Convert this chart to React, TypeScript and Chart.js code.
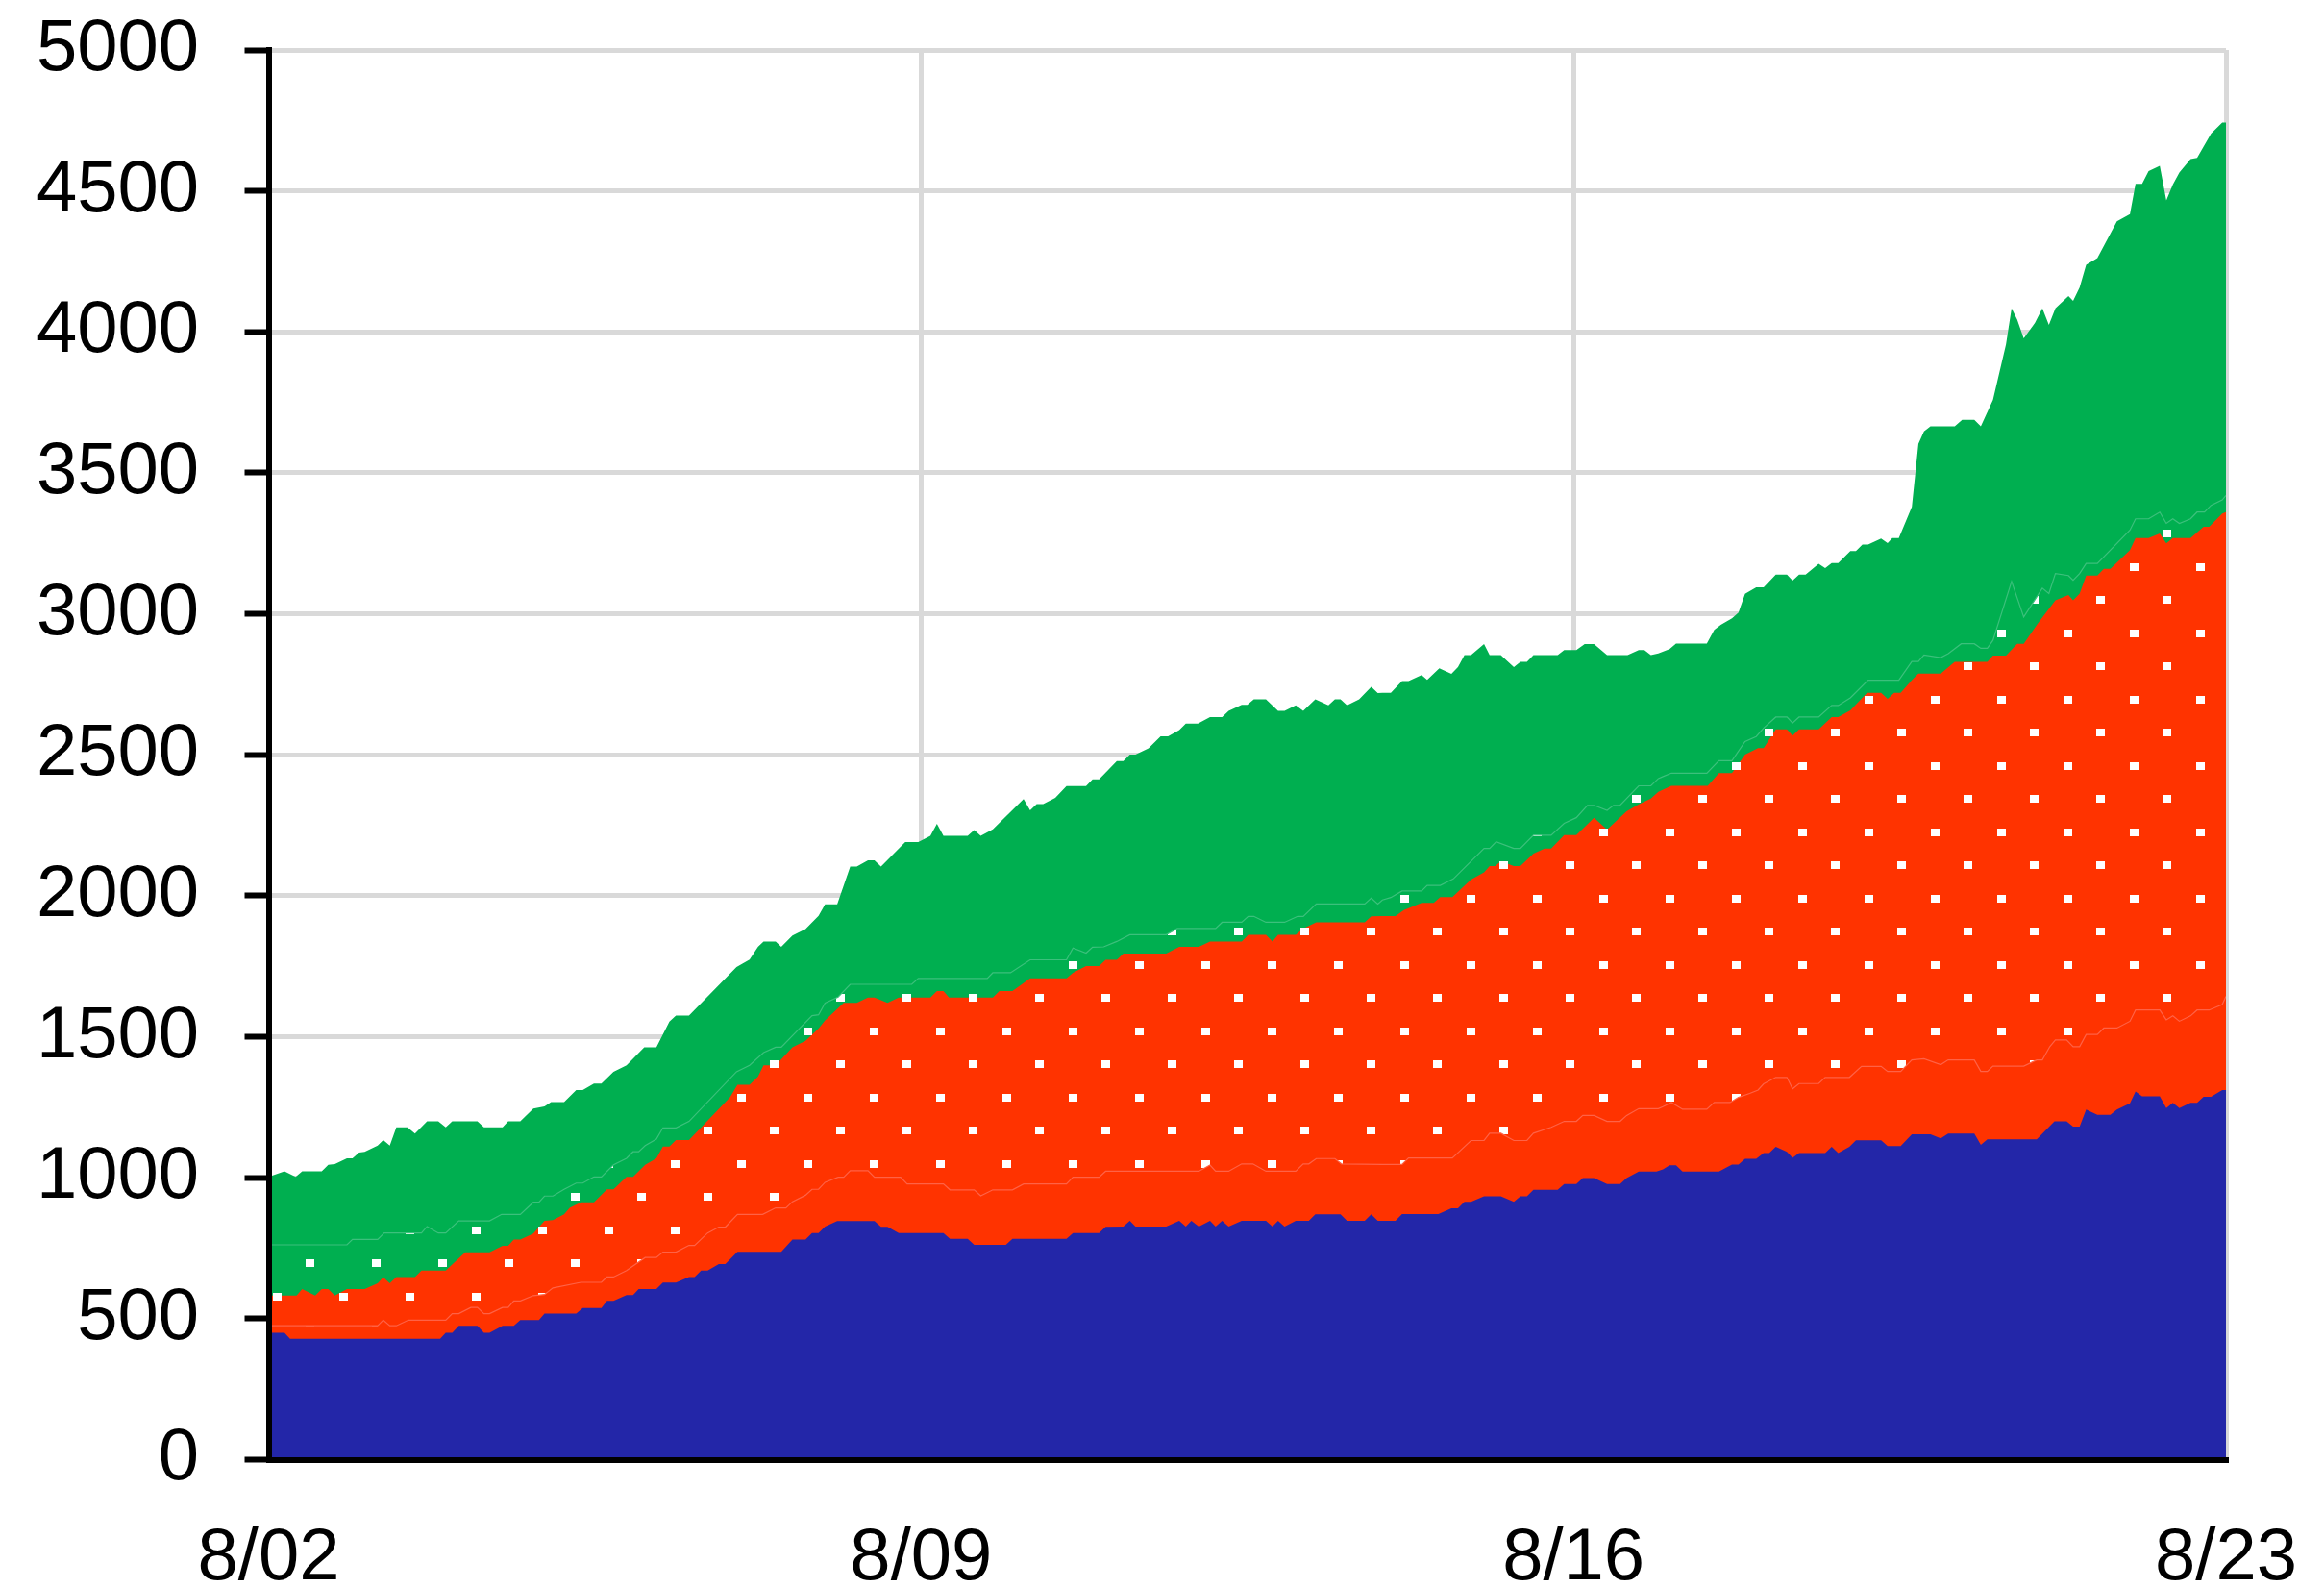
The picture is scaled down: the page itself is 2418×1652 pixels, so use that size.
import React, { useEffect, useRef } from 'react';
import { Chart, registerables } from 'chart.js';

Chart.register(...registerables);

// x positions are in days after 8/02
const xTickDays = [0, 7, 14, 21];
const xTickLabels = ['8/02', '8/09', '8/16', '8/23'];
const yTickStep = 500;

const greenTopDays = [0, 0.17, 0.29, 0.36, 0.57, 0.64, 0.71, 0.84, 0.9, 0.97, 1.03, 1.17, 1.23, 1.3, 1.37, 1.49, 1.57, 1.7, 1.82, 1.9, 1.97, 2.24, 2.31, 2.51, 2.57, 2.7, 2.84, 2.96,
  3.03, 3.17, 3.3, 3.37, 3.49, 3.57, 3.7, 3.84, 4.03, 4.16, 4.3, 4.37, 4.51, 5.02, 5.16, 5.25, 5.31, 5.44, 5.5, 5.62, 5.76, 5.9, 5.97,
  6.1, 6.24, 6.31, 6.43, 6.5, 6.57, 6.83, 6.97, 7.1, 7.17, 7.24, 7.5, 7.57, 7.64, 7.77, 8.1, 8.17, 8.24, 8.31, 8.44, 8.56, 8.77, 8.84, 8.91, 8.98,
  9.1, 9.17, 9.24, 9.3, 9.44, 9.57, 9.65, 9.77, 9.84, 9.97, 10.1, 10.23, 10.3, 10.44, 10.5, 10.57, 10.7, 10.83, 10.9, 11.02, 11.1, 11.23, 11.37, 11.44, 11.5, 11.57, 11.7, 11.83, 11.9, 11.95,
  12.04, 12.16, 12.23, 12.37, 12.43, 12.56, 12.69, 12.76, 12.83, 12.9, 13.04, 13.1, 13.22, 13.36, 13.43, 13.5, 13.57, 13.83, 13.9, 14.03, 14.12, 14.22, 14.36, 14.58, 14.7, 14.76, 14.83, 14.91,
  15.03, 15.1, 15.43, 15.51, 15.58, 15.7, 15.77, 15.84, 15.96, 16.04, 16.17, 16.29, 16.35, 16.42, 16.49, 16.63, 16.7, 16.77, 16.84, 16.97, 17.03, 17.1, 17.16, 17.3, 17.37, 17.42, 17.49, 17.63, 17.7, 17.76, 17.83,
  18.09, 18.17, 18.3, 18.37, 18.5, 18.64, 18.7, 18.76, 18.83, 18.95, 19.03, 19.1, 19.17, 19.31, 19.36, 19.43, 19.5, 19.62, 19.83, 19.97, 20.03, 20.1, 20.17, 20.29, 20.36, 20.43, 20.5, 20.62, 20.69, 20.84, 20.96, 21];
const greenTopValues = [1003, 1023, 1003, 1023, 1023, 1046, 1048, 1069, 1069, 1089, 1092, 1114, 1134, 1114, 1179, 1179, 1157, 1200, 1200, 1179, 1200, 1200, 1179, 1179, 1200, 1200, 1245, 1253,
  1268, 1268, 1311, 1311, 1334, 1334, 1376, 1399, 1463, 1463, 1554, 1575, 1575, 1747, 1774, 1819, 1838, 1838, 1819, 1859, 1882, 1929, 1970,
  1970, 2104, 2104, 2126, 2126, 2104, 2191, 2191, 2213, 2255, 2213, 2213, 2233, 2213, 2236, 2343, 2303, 2325, 2325, 2347, 2389, 2389, 2413, 2413, 2437,
  2478, 2478, 2501, 2501, 2523, 2566, 2566, 2588, 2611, 2611, 2634, 2634, 2656, 2677, 2677, 2697, 2697, 2656, 2656, 2676, 2656, 2697, 2676, 2697, 2697, 2676, 2697, 2741, 2719, 2720,
  2720, 2762, 2762, 2783, 2766, 2807, 2787, 2811, 2854, 2854, 2893, 2854, 2854, 2811, 2830, 2830, 2854, 2854, 2872, 2872, 2893, 2893, 2854, 2854, 2872, 2872, 2854, 2860,
  2875, 2895, 2895, 2943, 2961, 2984, 3005, 3071, 3094, 3094, 3139, 3139, 3118, 3139, 3139, 3178, 3162, 3180, 3180, 3223, 3223, 3246, 3246, 3267, 3251, 3269, 3269, 3380, 3603, 3647, 3665,
  3665, 3688, 3688, 3665, 3759, 3956, 4084, 4044, 3977, 4032, 4084, 4025, 4084, 4127, 4110, 4158, 4238, 4262, 4392, 4418, 4525, 4525, 4570, 4589, 4466, 4523, 4565, 4613, 4617, 4703, 4743, 4743];

const greenDotDays = [0, 0.84, 0.9, 1.17, 1.24, 1.64, 1.7, 1.82, 1.9, 2.04, 2.37, 2.5, 2.7, 2.84, 2.9, 2.96,
  3.05, 3.17, 3.3, 3.37, 3.49, 3.57, 3.7, 3.84, 3.91, 3.97, 4.04, 4.16, 4.23, 4.37, 4.51, 5.02, 5.16, 5.31, 5.44, 5.5, 5.83, 5.9, 5.97,
  6.11, 6.24, 6.9, 6.97, 7.71, 7.77, 7.96, 8.17, 8.56, 8.63, 8.77, 8.84, 8.96,
  9.1, 9.24, 9.63, 9.75, 10.16, 10.23, 10.44, 10.51, 10.57, 10.7, 10.9, 11.04, 11.1, 11.24, 11.76, 11.83, 11.9, 11.95,
  12.04, 12.16, 12.37, 12.43, 12.57, 12.71, 13.04, 13.1, 13.17, 13.36, 13.43, 13.57, 13.76, 13.9, 14.03, 14.15, 14.22, 14.36, 14.43, 14.5, 14.7, 14.83, 14.91, 14.96,
  15.05, 15.43, 15.56, 15.7, 15.84, 15.96, 16.04, 16.17, 16.29, 16.35, 16.42, 16.63, 16.77, 16.84, 16.97, 17.16, 17.49, 17.63, 17.7, 17.76, 17.94,
  18.02, 18.16, 18.3, 18.37, 18.44, 18.5, 18.7, 18.83, 19.03, 19.1, 19.17, 19.31, 19.36, 19.43, 19.5, 19.62, 19.97, 20.03, 20.17, 20.29, 20.36, 20.43, 20.5, 20.62, 20.69, 20.77, 20.84, 20.96, 21];
const greenDotValues = [762, 762, 781, 781, 804, 804, 827, 804, 804, 847, 847, 870, 870, 913, 913, 935,
  935, 959, 981, 981, 1003, 1003, 1046, 1069, 1092, 1092, 1114, 1137, 1177, 1177, 1200, 1376, 1399, 1444, 1463, 1463, 1575, 1578, 1620,
  1641, 1686, 1686, 1707, 1707, 1727, 1727, 1773, 1773, 1815, 1797, 1818, 1819,
  1838, 1862, 1862, 1884, 1884, 1906, 1906, 1927, 1927, 1906, 1906, 1927, 1927, 1971, 1971, 1992, 1971, 1985,
  1994, 2017, 2017, 2037, 2037, 2060, 2168, 2168, 2192, 2168, 2168, 2215, 2215, 2257, 2277, 2321, 2321, 2303, 2321, 2321, 2390, 2390, 2416, 2423,
  2435, 2435, 2479, 2479, 2547, 2565, 2595, 2634, 2634, 2613, 2634, 2634, 2675, 2675, 2702, 2765, 2765, 2831, 2831, 2854, 2845,
  2859, 2894, 2894, 2878, 2878, 2906, 3115, 2989, 3091, 3072, 3143, 3136, 3119, 3143, 3179, 3179, 3297, 3337, 3337, 3361, 3321, 3337, 3321, 3337, 3361, 3361, 3385, 3404, 3420];

const redDotDays = [0, 0.3, 0.36, 0.5, 0.57, 0.64, 0.71, 0.84, 1.03, 1.17, 1.23, 1.3, 1.37, 1.57, 1.64, 1.9, 2.04, 2.11, 2.37, 2.51, 2.57, 2.63, 2.7, 2.84, 2.9, 2.96,
  3.05, 3.17, 3.23, 3.35, 3.49, 3.63, 3.7, 3.84, 3.91, 4.04, 4.16, 4.23, 4.3, 4.37, 4.51, 4.95, 5.03, 5.16, 5.25, 5.31, 5.44, 5.62, 5.76, 5.9, 5.97,
  6.17, 6.31, 6.43, 6.5, 6.64, 6.76, 7.1, 7.17, 7.24, 7.3, 7.77, 7.84, 7.98, 8.17, 8.56, 8.63, 8.77, 8.91, 8.98,
  9.1, 9.17, 9.63, 9.77, 9.98, 10.1, 10.44, 10.51, 10.7, 10.77, 10.83, 11.02, 11.1, 11.24, 11.76, 11.83, 11.95,
  12.09, 12.18, 12.37, 12.5, 12.57, 12.7, 12.9, 13.04, 13.1, 13.16, 13.22, 13.36, 13.43, 13.57, 13.69, 13.76, 13.9, 14.03, 14.22, 14.36, 14.57, 14.7, 14.83, 14.91, 14.96,
  15.05, 15.44, 15.56, 15.7, 15.84, 15.98, 16.04, 16.17, 16.29, 16.35, 16.42, 16.63, 16.77, 16.84, 16.97, 17.15, 17.3, 17.37, 17.44, 17.51, 17.63, 17.7, 17.94,
  18.09, 18.44, 18.5, 18.64, 18.76, 18.83, 18.98, 19.17, 19.31, 19.36, 19.43, 19.5, 19.62, 19.69, 19.76, 19.97, 20.03, 20.17, 20.29, 20.36, 20.43, 20.62, 20.76, 20.82, 20.96, 21];
const redDotValues = [582, 582, 605, 582, 605, 605, 582, 605, 605, 626, 647, 626, 648, 648, 671, 671, 714, 736, 736, 759, 759, 781, 781, 802, 825, 847,
  850, 870, 893, 913, 913, 959, 959, 1003, 1003, 1046, 1069, 1111, 1111, 1134, 1134, 1285, 1330, 1330, 1359, 1399, 1399, 1463, 1486, 1529, 1558,
  1620, 1620, 1639, 1639, 1620, 1639, 1639, 1662, 1662, 1639, 1639, 1662, 1662, 1707, 1707, 1727, 1751, 1751, 1773,
  1773, 1795, 1795, 1819, 1819, 1838, 1838, 1862, 1862, 1838, 1862, 1862, 1884, 1906, 1906, 1927, 1928,
  1928, 1949, 1975, 1975, 1995, 1995, 2058, 2083, 2105, 2105, 2122, 2105, 2105, 2150, 2168, 2168, 2215, 2215, 2277, 2235, 2300, 2324, 2345, 2369, 2376,
  2390, 2390, 2435, 2435, 2501, 2524, 2524, 2590, 2590, 2568, 2590, 2590, 2634, 2634, 2658, 2720, 2720, 2699, 2720, 2720, 2765, 2788, 2788,
  2830, 2830, 2852, 2852, 2894, 2894, 2965, 3048, 3067, 3048, 3072, 3136, 3136, 3160, 3160, 3226, 3269, 3269, 3285, 3250, 3269, 3269, 3309, 3309, 3356, 3361];

const redSolidDays = [0, 1.17, 1.23, 1.3, 1.37, 1.5, 1.9, 1.97, 2.04, 2.17, 2.24, 2.31, 2.37, 2.51, 2.57, 2.63, 2.7, 2.84, 2.96,
  3.05, 3.35, 3.57, 3.63, 3.7, 3.84, 4.04, 4.16, 4.23, 4.37, 4.51, 4.57, 4.71, 4.83, 4.9, 5.03, 5.3, 5.44, 5.55, 5.62, 5.76, 5.83, 5.9, 5.97,
  6.11, 6.17, 6.24, 6.43, 6.5, 6.78, 6.85, 7.24, 7.31, 7.57, 7.64, 7.77, 7.98, 8.1, 8.56, 8.63, 8.91, 8.98,
  9.98, 10.1, 10.16, 10.3, 10.44, 10.56, 10.7, 11.02, 11.1, 11.16, 11.24, 11.44, 11.51, 11.95,
  12.16, 12.23, 12.7, 12.9, 13.04, 13.1, 13.22, 13.36, 13.5, 13.57, 13.76, 13.9, 14.03, 14.1, 14.22, 14.36, 14.5, 14.57, 14.7, 14.91, 14.96,
  15.05, 15.17, 15.43, 15.51, 15.68, 15.77, 15.89, 15.98, 16.04, 16.17, 16.29, 16.35, 16.42, 16.63, 16.7, 16.96, 17.09, 17.3, 17.37, 17.51, 17.63, 17.76, 17.94,
  18.02, 18.3, 18.37, 18.44, 18.5, 18.83, 18.97, 19.03, 19.11, 19.17, 19.29, 19.36, 19.43, 19.5, 19.62, 19.69, 19.83, 19.97, 20.03, 20.29, 20.36, 20.43, 20.5, 20.62, 20.69, 20.82, 20.96, 21];
const redSolidValues = [475, 475, 495, 475, 475, 495, 495, 518, 518, 540, 540, 518, 518, 540, 540, 563, 563, 582, 586,
  609, 629, 629, 648, 648, 671, 717, 717, 736, 736, 760, 760, 804, 825, 825, 870, 870, 893, 893, 915, 938, 959, 959, 984,
  1002, 1002, 1025, 1025, 1002, 1002, 978, 978, 957, 957, 936, 957, 957, 978, 978, 1002, 1002, 1023,
  1023, 1045, 1023, 1023, 1049, 1049, 1023, 1023, 1049, 1049, 1068, 1068, 1049, 1047,
  1047, 1070, 1070, 1132, 1132, 1158, 1158, 1132, 1132, 1158, 1179, 1200, 1200, 1221, 1221, 1200, 1200, 1221, 1245, 1245, 1252,
  1267, 1243, 1243, 1267, 1267, 1285, 1299, 1311, 1333, 1356, 1356, 1315, 1334, 1334, 1356, 1356, 1395, 1395, 1377, 1377, 1418, 1422, 1401,
  1418, 1418, 1377, 1377, 1396, 1396, 1418, 1418, 1465, 1489, 1489, 1465, 1465, 1508, 1508, 1531, 1531, 1555, 1595, 1595, 1560, 1574, 1555, 1574, 1595, 1595, 1614, 1643];

const blueDays = [0, 0.17, 0.23, 1.84, 1.9, 1.97, 2.04, 2.24, 2.31, 2.37, 2.51, 2.63, 2.7, 2.9, 2.96,
  3.3, 3.37, 3.57, 3.63, 3.7, 3.84, 3.91, 3.97, 4.16, 4.23, 4.37, 4.51, 4.57, 4.64, 4.71, 4.83, 4.9, 5.03, 5.5, 5.62, 5.76, 5.83, 5.9, 5.97,
  6.1, 6.5, 6.57, 6.64, 6.76, 7.24, 7.31, 7.5, 7.57, 7.91, 7.98, 8.56, 8.63, 8.91, 8.98,
  9.17, 9.24, 9.3, 9.63, 9.77, 9.84, 9.9, 9.98, 10.1, 10.16, 10.23, 10.3, 10.44, 10.7, 10.77, 10.83, 10.9, 11.02, 11.16, 11.23, 11.5, 11.57, 11.76, 11.83, 11.9, 11.95,
  12.09, 12.16, 12.55, 12.69, 12.76, 12.83, 12.9, 13.04, 13.22, 13.36, 13.43, 13.5, 13.57, 13.83, 13.9, 14.03, 14.1, 14.22, 14.36, 14.5, 14.57, 14.7, 14.89, 14.96,
  15.03, 15.1, 15.17, 15.56, 15.7, 15.77, 15.84, 15.96, 16.04, 16.1, 16.17, 16.29, 16.35, 16.42, 16.7, 16.77, 16.84, 16.96, 17.03, 17.3, 17.37, 17.51, 17.63, 17.83, 17.94,
  18.02, 18.3, 18.37, 18.44, 18.97, 19.16, 19.29, 19.36, 19.43, 19.5, 19.62, 19.76, 19.83, 19.97, 20.03, 20.1, 20.29, 20.36, 20.43, 20.5, 20.62, 20.69, 20.76, 20.84, 20.96, 21];
const blueValues = [450, 450, 429, 429, 450, 450, 475, 475, 450, 450, 475, 475, 495, 495, 518,
  518, 538, 538, 563, 563, 584, 584, 605, 605, 628, 628, 648, 648, 671, 671, 694, 694, 737, 737, 781, 781, 804, 804, 827,
  846, 846, 826, 826, 804, 804, 783, 783, 762, 762, 783, 783, 804, 804, 826,
  827, 847, 827, 827, 847, 827, 847, 827, 847, 827, 847, 827, 847, 847, 827, 847, 827, 847, 847, 870, 870, 847, 847, 870, 847, 847,
  847, 871, 871, 892, 892, 915, 915, 934, 934, 915, 934, 934, 957, 957, 978, 978, 999, 999, 978, 978, 999, 1022, 1022, 1030,
  1044, 1044, 1022, 1022, 1047, 1047, 1067, 1067, 1088, 1088, 1110, 1092, 1071, 1088, 1088, 1110, 1088, 1110, 1133, 1133, 1112, 1112, 1154, 1154, 1140,
  1157, 1157, 1117, 1136, 1136, 1200, 1200, 1181, 1181, 1242, 1223, 1223, 1242, 1264, 1306, 1289, 1289, 1247, 1266, 1247, 1266, 1266, 1287, 1287, 1311, 1311];

const BLUE = '#2326a8';
const RED = '#ff3300';
const GREEN = '#00af50';
const RED_LINE = '#ff6246';
const GREEN_LINE = '#3cc07c';
const FONT = { family: '"Liberation Sans", Arial, sans-serif', size: 76 };

function points(days: number[], values: number[]) {
  return days.map((d, i) => ({ x: d, y: values[i] }));
}

function makeDotPattern(ctx: CanvasRenderingContext2D, bg: string) {
  const tile = document.createElement('canvas');
  tile.width = 69;
  tile.height = 69;
  const t = tile.getContext('2d')!;
  t.fillStyle = bg;
  t.fillRect(0, 0, 69, 69);
  t.fillStyle = '#ffffff';
  t.fillRect(0, 0, 9, 8);
  t.fillRect(35, 35, 9, 8);
  const p = ctx.createPattern(tile, 'repeat')!;
  p.setTransform(new DOMMatrix([1, 0, 0, 1, 42, 68]));
  return p;
}

export default function App() {
  const ref = useRef<HTMLCanvasElement>(null);

  useEffect(() => {
    const canvas = ref.current!;
    const ctx = canvas.getContext('2d')!;
    const redDots = makeDotPattern(ctx, RED);
    const greenDots = makeDotPattern(ctx, GREEN);
    const common = { fill: 'origin', pointRadius: 0, pointHoverRadius: 0, tension: 0 };
    const chart = new Chart(canvas, {
      type: 'line',
      data: {
        datasets: [
          { ...common, label: 'a', data: points(blueDays, blueValues), backgroundColor: BLUE, borderColor: 'rgba(0,0,0,0)', borderWidth: 0 },
          { ...common, label: 'b', data: points(redSolidDays, redSolidValues), backgroundColor: RED, borderColor: RED_LINE, borderWidth: 1.2 },
          { ...common, label: 'c', data: points(redDotDays, redDotValues), backgroundColor: redDots, borderColor: 'rgba(0,0,0,0)', borderWidth: 0 },
          { ...common, label: 'd', data: points(greenDotDays, greenDotValues), backgroundColor: greenDots, borderColor: GREEN_LINE, borderWidth: 1.2 },
          { ...common, label: 'e', data: points(greenTopDays, greenTopValues), backgroundColor: GREEN, borderColor: 'rgba(0,0,0,0)', borderWidth: 0 },
        ] as any,
      },
      options: {
        animation: false,
        responsive: true,
        maintainAspectRatio: false,
        events: [],
        layout: { padding: { top: 52, right: 102, left: 0, bottom: 0 } },
        plugins: { legend: { display: false }, tooltip: { enabled: false } },
        scales: {
          x: {
            type: 'linear',
            min: 0,
            max: 21,
            afterBuildTicks: (s: any) => { s.ticks = xTickDays.map((v) => ({ value: v })); },
            afterFit: (s: any) => {
              s.height = 133.5;
              s.paddingLeft = 0; s.paddingRight = 0; s.paddingTop = 0; s.paddingBottom = 0;
            },
            ticks: {
              autoSkip: false,
              maxRotation: 0,
              color: '#000',
              font: FONT,
              padding: 58,
              callback: (v: any) => xTickLabels[xTickDays.indexOf(Number(v))] ?? '',
            },
            grid: { color: '#d9d9d9', lineWidth: 5, drawTicks: false },
            border: { display: true, color: '#000', width: 6, z: 1 },
          },
          y: {
            min: 0,
            max: 5000,
            afterFit: (s: any) => {
              s.width = 279.5;
              s.paddingLeft = 0; s.paddingRight = 0; s.paddingTop = 0; s.paddingBottom = 0;
            },
            ticks: { stepSize: yTickStep, color: '#000', font: FONT, padding: 47.5, callback: (v: any) => String(v) },
            grid: { color: '#d9d9d9', lineWidth: 5, tickColor: '#000', tickWidth: 6, tickLength: 25 },
            border: { display: true, color: '#000', width: 6, z: 1 },
          },
        },
      } as any,
    });
    return () => chart.destroy();
  }, []);

  return (
    <div style={{ position: 'absolute', left: 0, top: 0, width: 2418, height: 1652, background: '#fff' }}>
      <canvas ref={ref} />
    </div>
  );
}
